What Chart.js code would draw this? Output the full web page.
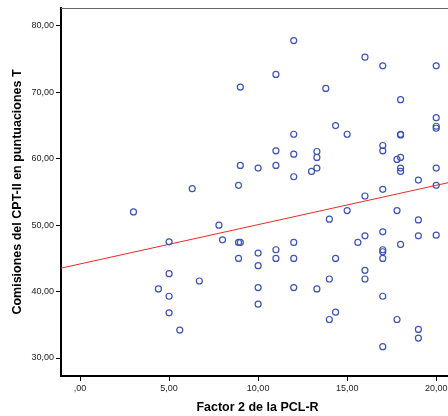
<!DOCTYPE html>
<html>
<head>
<meta charset="utf-8">
<script src="https://cdn.jsdelivr.net/npm/chart.js@4/dist/chart.umd.min.js"></script>
<style>
  html, body { margin: 0; padding: 0; background: #fff; overflow: hidden; width: 448px; height: 416px; }
  #wrap { width: 460px; height: 416px; }
</style>
</head>
<body>
<div id="wrap"><canvas id="chart" width="460" height="416"></canvas></div>
<script>
// Factor 2 PCL-R (x) vs CPT-II commissions T score (y)
const factor2 = [
  3.0, 4.4, 5, 5, 5, 5, 5.6, 6.3, 6.7, 7.8, 8.0, 8.9, 8.9, 9.0, 8.9, 9.0, 9.0,
  10, 10, 10, 10, 10, 11, 11, 11, 11, 11, 12, 12, 12, 12, 12, 12, 12,
  13.0, 13.3, 13.3, 13.3, 13.3, 13.8, 14, 14, 14, 14.35, 14.35, 14.35,
  15, 15, 15.6, 16, 16, 16, 16, 16, 17, 17, 17, 17, 17, 17, 17, 17, 17, 17,
  17.8, 17.8, 17.8, 18, 18, 18, 18, 18, 18, 18, 19, 19, 19, 19, 19,
  20, 20, 20, 20, 20, 20, 20
];
const comisiones = [
  52.0, 40.4, 47.5, 42.7, 39.3, 36.8, 34.2, 55.5, 41.6, 50.0, 47.8, 56.0, 47.4, 47.4, 45.0, 70.8, 59.0,
  58.6, 45.8, 43.9, 40.6, 38.1, 72.7, 61.2, 59.0, 46.3, 45.0, 77.8, 63.7, 60.7, 57.3, 47.4, 45.0, 40.6,
  58.1, 61.1, 60.2, 58.6, 40.4, 70.6, 50.9, 41.9, 35.8, 65.0, 45.0, 36.9,
  63.7, 52.2, 47.4, 75.3, 54.4, 48.4, 43.2, 41.9, 74.0, 62.0, 61.2, 55.4, 49.0, 46.3, 46.0, 45.0, 39.3, 31.7,
  59.9, 52.2, 35.8, 68.9, 63.7, 63.6, 60.2, 58.6, 58.1, 47.1, 56.8, 50.8, 48.4, 34.3, 33.0,
  74.0, 66.2, 64.9, 64.6, 58.6, 56.0, 48.5
];

// fit line end points (left axis to right end of plot)
const fitX = [-1.07, 21.0];
const fitY = [43.53, 56.60];

const xTicks = [0, 5, 10, 15, 20];
const xTickLabels = [',00', '5,00', '10,00', '15,00', '20,00'];
const yTicks = [30, 40, 50, 60, 70, 80];
const yTickLabels = ['30,00', '40,00', '50,00', '60,00', '70,00', '80,00'];

const points = factor2.map((x, i) => ({ x: x, y: comisiones[i] }));
const fitPoints = fitX.map((x, i) => ({ x: x, y: fitY[i] }));

// top frame line like the SPSS plot box
const frame = {
  id: 'frame',
  afterDraw(chart) {
    const a = chart.chartArea;
    const ctx = chart.ctx;
    ctx.save();
    ctx.strokeStyle = '#666';
    ctx.lineWidth = 1;
    ctx.beginPath();
    ctx.moveTo(a.left, a.top + 0.5);
    ctx.lineTo(a.right, a.top + 0.5);
    ctx.lineTo(a.right - 0.5, a.bottom);
    ctx.stroke();
    ctx.restore();
  }
};

const tickFont = { family: '"Liberation Sans", Arial, sans-serif', size: 9 };
const titleFont = { family: '"Liberation Sans", Arial, sans-serif', size: 12.5, weight: 'bold' };

new Chart(document.getElementById('chart'), {
  type: 'scatter',
  data: {
    datasets: [
      {
        label: 'Comisiones',
        data: points,
        pointStyle: 'circle',
        pointRadius: 3,
        pointBorderWidth: 1.2,
        pointBorderColor: 'rgb(61, 82, 179)',
        pointBackgroundColor: 'rgba(0,0,0,0)',
        order: 1
      },
      {
        label: 'Ajuste',
        type: 'line',
        data: fitPoints,
        borderColor: 'rgb(240, 40, 40)',
        borderWidth: 1,
        pointRadius: 0,
        fill: false,
        order: 2
      }
    ]
  },
  options: {
    responsive: false,
    animation: false,
    layout: { padding: { top: 8, right: 6, left: 0, bottom: 0 } },
    plugins: {
      legend: { display: false },
      tooltip: { enabled: false }
    },
    scales: {
      x: {
        type: 'linear',
        min: -1.07,
        max: 21.0,
        afterBuildTicks: scale => { scale.ticks = xTicks.map(v => ({ value: v })); },
        afterFit: scale => { scale.height = 40; },
        ticks: {
          font: tickFont,
          color: '#222',
          padding: 2,
          maxRotation: 0,
          autoSkip: false,
          callback: v => xTickLabels[xTicks.indexOf(v)]
        },
        grid: { drawOnChartArea: false, drawTicks: true, tickLength: 5, color: '#000', lineWidth: 1 },
        border: { display: true, color: '#000', width: 2 },
        title: {
          display: true,
          text: 'Factor 2 de la PCL-R',
          font: titleFont,
          color: '#000',
          padding: { top: 0, bottom: 1 }
        }
      },
      y: {
        type: 'linear',
        min: 27.29,
        max: 82.71,
        afterBuildTicks: scale => { scale.ticks = yTicks.map(v => ({ value: v })); },
        afterFit: scale => { scale.width = 61; },
        ticks: {
          font: tickFont,
          color: '#222',
          padding: 2,
          autoSkip: false,
          callback: v => yTickLabels[yTicks.indexOf(v)]
        },
        grid: { drawOnChartArea: false, drawTicks: true, tickLength: 5, color: '#000', lineWidth: 1 },
        border: { display: true, color: '#000', width: 2 },
        title: {
          display: true,
          text: 'Comisiones del CPT-II en puntuaciones T',
          font: titleFont,
          color: '#000',
          padding: { top: 10, bottom: 0 }
        }
      }
    }
  },
  plugins: [frame]
});
</script>
</body>
</html>
